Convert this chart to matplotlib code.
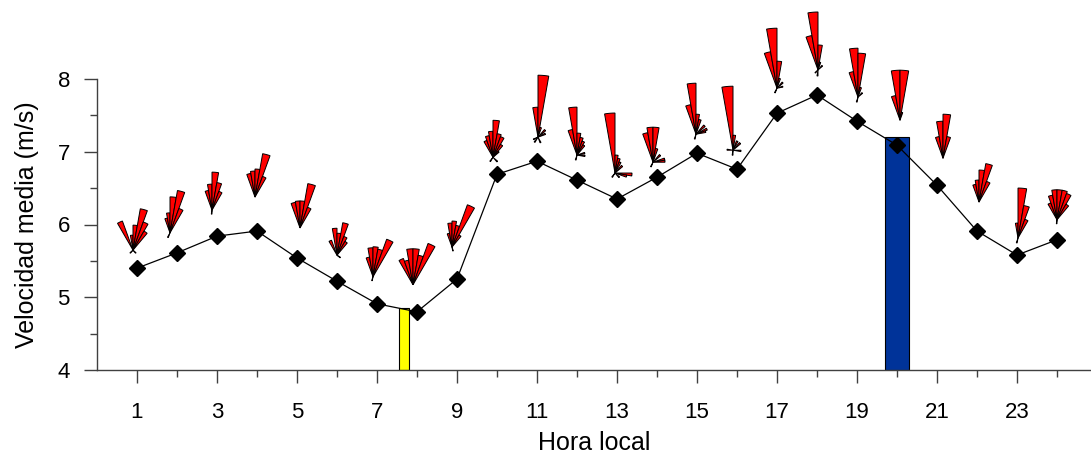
import matplotlib
matplotlib.use("Agg")
import matplotlib.pyplot as plt
import matplotlib.transforms as mtransforms
from matplotlib.patches import Polygon
import numpy as np

plt.rcParams['font.family'] = ['Liberation Sans', 'DejaVu Sans']

# hourly mean wind speed (m/s)
hours = list(range(1, 25))
speed = [5.40, 5.61, 5.84, 5.91, 5.54, 5.22, 4.91, 4.80, 5.25, 6.69, 6.87, 6.61,
         6.35, 6.65, 6.98, 6.76, 7.53, 7.78, 7.42, 7.09, 6.54, 5.91, 5.58, 5.79]

# highlighted bars
bar_hours = [7.67, 20.0]
bar_tops = [4.85, 7.2]

# wind rose per hour: {sector centre direction (deg from N): frequency}
rose_freq = [
    {335: 31, 355: 15, 5: 25, 15: 42, 25: 30, 35: 22, 135: 4, 225: 4},
    {345: 15, 355: 20, 5: 36, 15: 43, 25: 26, 205: 5},
    {345: 20, 355: 26, 5: 38, 15: 28, 25: 20, 185: 4},
    {345: 24, 355: 26, 5: 28, 15: 44, 25: 22},
    {345: 26, 355: 27, 5: 27, 15: 45, 25: 22},
    {335: 16, 355: 27, 5: 22, 15: 33, 25: 20, 35: 16, 125: 4},
    {345: 20, 355: 29, 5: 30, 15: 28, 25: 40, 195: 4},
    {335: 28, 345: 25, 355: 36, 5: 36, 15: 30, 25: 44},
    {345: 14, 355: 24, 5: 26, 15: 22, 25: 45, 35: 14, 165: 4},
    {335: 18, 345: 22, 355: 26, 5: 37, 15: 24, 25: 22, 35: 15, 45: 8, 135: 6, 215: 5},
    {355: 30, 5: 62, 15: 10, 45: 10, 65: 8, 155: 6, 215: 6, 245: 5},
    {345: 26, 355: 48, 5: 22, 15: 18, 25: 15, 35: 12, 75: 8, 95: 8, 195: 5},
    {355: 60, 5: 18, 15: 15, 25: 12, 45: 10, 95: 17, 105: 12, 135: 6, 215: 5},
    {345: 30, 355: 35, 5: 35, 15: 14, 45: 10, 75: 12, 85: 12, 205: 5},
    {345: 30, 355: 51, 5: 20, 15: 15, 45: 12, 65: 12, 75: 10, 195: 5},
    {355: 64, 5: 15, 25: 10, 45: 10, 95: 8, 275: 6, 185: 5},
    {345: 37, 355: 60, 5: 27, 15: 10, 45: 8, 75: 6, 205: 5},
    {345: 35, 355: 58, 5: 25, 15: 8, 45: 6, 185: 6, 225: 4},
    {345: 26, 355: 49, 5: 44, 15: 10, 45: 6, 195: 5},
    {345: 25, 355: 50, 5: 50, 15: 8},
    {345: 22, 355: 37, 5: 44, 15: 22},
    {345: 18, 355: 22, 5: 32, 15: 39, 25: 22},
    {355: 15, 5: 50, 15: 33, 25: 20, 195: 5},
    {335: 18, 345: 25, 355: 30, 5: 30, 15: 30, 25: 28, 35: 18, 185: 4},
]

# where each rose sits relative to its point (pixels, x right / y down)
rose_nudge = [(-4, -18), (-7, -20), (-5, -26), (-2, -34), (3, -30), (0, -26),
              (-4, -27), (-4, -27), (-5, -32), (-4, -17), (1, -24), (0, -25),
              (-2, -26), (-4, -15), (-1, -19), (-4, -19), (0, -25), (1, -25),
              (1, -24), (3, -25), (6, -27), (2, -29), (1, -17), (0, -20)]


def draw_rose(ax, fig, x, y, nudge, freqs):
    dpi = fig.dpi
    trans = fig.dpi_scale_trans + mtransforms.ScaledTranslation(x, y, ax.transData)
    cx, cy = nudge[0] / dpi, -nudge[1] / dpi
    for d, f in freqs.items():
        r = f / dpi  # one unit of frequency = one pixel
        angs = np.radians(90 - np.linspace(d - 5, d + 5, 6))
        pts = [(cx, cy)] + [(cx + r * np.cos(a), cy + r * np.sin(a)) for a in angs]
        ax.add_patch(Polygon(pts, closed=True, facecolor='#ff0000', edgecolor='black',
                             linewidth=0.7, transform=trans, clip_on=False, zorder=5))


fig = plt.figure(figsize=(10.91, 4.54), dpi=100)
ax = fig.add_axes([97 / 1091, 1 - 370 / 454, 1 - 97 / 1091, 291 / 454])

ax.bar(bar_hours[0], bar_tops[0] - 4, width=0.25, bottom=4, color='#ffff00',
       edgecolor='black', linewidth=0.8, zorder=1)
ax.bar(bar_hours[1], bar_tops[1] - 4, width=0.6, bottom=4, color='#003399',
       edgecolor='black', linewidth=0.8, zorder=1)

ax.plot(hours, speed, color='black', linewidth=0.9, marker='D', markersize=8, zorder=3)

ax.set_xlim(0, 24.85)
ax.set_ylim(4, 8)

for h, v, nd, fr in zip(hours, speed, rose_nudge, rose_freq):
    draw_rose(ax, fig, h, v, nd, fr)

ax.spines['top'].set_visible(False)
ax.spines['right'].set_visible(False)
for s in ['left', 'bottom']:
    ax.spines[s].set_color('#404040')
    ax.spines[s].set_linewidth(1.0)

ax.set_yticks([4, 5, 6, 7, 8])
ax.set_yticks([4.5, 5.5, 6.5, 7.5], minor=True)
ax.set_xticks(range(1, 24, 2))
ax.set_xticks(range(2, 25, 2), minor=True)
ax.tick_params(which='major', length=9.5, width=1.0, color='#404040', labelsize=16, pad=10)
ax.tick_params(which='minor', length=5, width=1.0, color='#404040')
ax.tick_params(axis='x', which='major', pad=13.5)

ax.set_xlabel("Hora local", fontsize=18, labelpad=6)
ax.set_ylabel("Velocidad media (m/s)", fontsize=18, labelpad=13)

fig.savefig("out.png", dpi=100)
